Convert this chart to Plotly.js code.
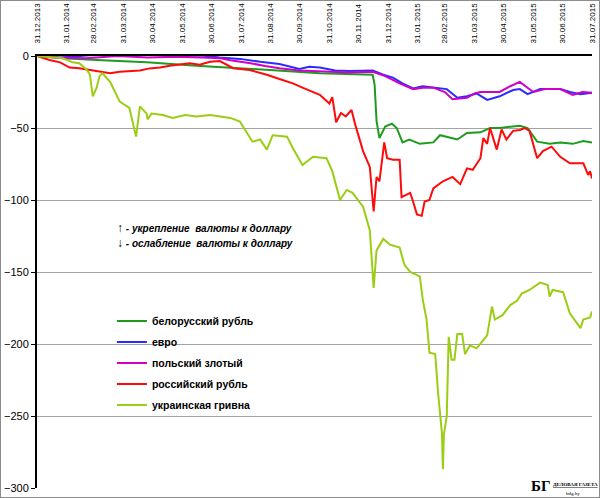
<!DOCTYPE html>
<html>
<head>
<meta charset="utf-8">
<script src="https://cdn.plot.ly/plotly-3.0.1.min.js"></script>
<style>
  html, body { margin: 0; padding: 0; background: #fff; }
  #chart { width: 598px; height: 496px; border: 1px solid #8c8c8c; }
</style>
</head>
<body>
<div id="chart"></div>
<script>
// Month-end ticks along the top axis
const tickDates = ["2013-12-31", "2014-01-31", "2014-02-28", "2014-03-31", "2014-04-30", "2014-05-31",
  "2014-06-30", "2014-07-31", "2014-08-31", "2014-09-30", "2014-10-31", "2014-11-30", "2014-12-31",
  "2015-01-31", "2015-02-28", "2015-03-31", "2015-04-30", "2015-05-31", "2015-06-30", "2015-07-31"];
const tickLabels = ["31.12.2013", "31.01.2014", "28.02.2014", "31.03.2014", "30.04.2014", "31.05.2014",
  "30.06.2014", "31.07.2014", "31.08.2014", "30.09.2014", "31.10.2014", "30.11.2014", "31.12.2014",
  "31.01.2015", "28.02.2015", "31.03.2015", "30.04.2015", "31.05.2015", "30.06.2015", "31.07.2015"];

// белорусский рубль
const byrDates = ["2013-12-31", "2014-01-27", "2014-03-03", "2014-04-24", "2014-06-15", "2014-07-20",
  "2014-08-30", "2014-10-21", "2014-12-15", "2014-12-17", "2014-12-19", "2014-12-22", "2014-12-28",
  "2015-01-04", "2015-01-09", "2015-01-15", "2015-01-22", "2015-02-02", "2015-02-16", "2015-02-23",
  "2015-03-13", "2015-03-23", "2015-04-06", "2015-04-16", "2015-04-26", "2015-05-17", "2015-05-25",
  "2015-06-04", "2015-06-17", "2015-06-28", "2015-07-11", "2015-07-22", "2015-07-31"];
const byrValues = [0, -1.6, -2.8, -4.3, -6.7, -8, -9.7, -12, -13, -20, -45, -57, -49,
  -47, -50, -60, -58, -61, -60, -55, -58, -53.5, -53, -50, -50, -48.4, -50,
  -59.5, -61, -60, -61, -59, -60];

// евро
const eurDates = ["2013-12-31", "2014-01-24", "2014-02-24", "2014-03-27", "2014-04-12", "2014-04-27",
  "2014-05-29", "2014-06-18", "2014-07-09", "2014-07-30", "2014-08-20", "2014-09-09", "2014-09-30",
  "2014-10-10", "2014-10-21", "2014-11-06", "2014-11-21", "2014-12-15", "2014-12-26", "2015-01-05",
  "2015-01-15", "2015-01-26", "2015-02-05", "2015-02-16", "2015-03-02", "2015-03-13", "2015-03-23",
  "2015-04-02", "2015-04-13", "2015-04-26", "2015-05-10", "2015-05-17", "2015-05-25", "2015-06-07",
  "2015-06-28", "2015-07-08", "2015-07-19", "2015-07-31"];
const eurValues = [0, -1, 0.5, 1, 0.5, 1, 0, 0.5, -1, -2, -4, -5.5, -9,
  -7.5, -8, -10, -10.4, -10, -13, -15, -19, -22.5, -21, -22, -23, -29, -28,
  -26, -30.5, -28, -23.6, -23, -26.5, -23, -23, -25, -26.5, -25.5];

// польский злотый
const plnDates = ["2013-12-31", "2014-01-20", "2014-02-20", "2014-03-25", "2014-04-25", "2014-05-25",
  "2014-06-20", "2014-07-10", "2014-07-20", "2014-08-10", "2014-08-25", "2014-09-09", "2014-09-30",
  "2014-10-21", "2014-11-04", "2014-11-21", "2014-12-15", "2014-12-28", "2015-01-12", "2015-01-26",
  "2015-02-05", "2015-02-16", "2015-02-28", "2015-03-08", "2015-03-23", "2015-03-31", "2015-04-06",
  "2015-04-26", "2015-05-07", "2015-05-17", "2015-05-25", "2015-05-31", "2015-06-12", "2015-06-28",
  "2015-07-11", "2015-07-21", "2015-07-31"];
const plnValues = [0, -1, -1.5, 0, -1, -0.5, -1, -1.5, -3, -5, -7, -8.5, -10,
  -10.5, -11, -11.5, -11, -14, -19, -23, -22, -22, -25, -30, -29, -26, -25,
  -25, -21, -18, -22, -25, -23, -23, -27, -25, -25.5];

// российский рубль
const rubDates = ["2013-12-31", "2014-01-13", "2014-01-24", "2014-02-03", "2014-02-13", "2014-02-24",
  "2014-03-06", "2014-03-17", "2014-03-27", "2014-04-06", "2014-04-17", "2014-04-27", "2014-05-08",
  "2014-05-18", "2014-05-29", "2014-06-08", "2014-06-18", "2014-06-29", "2014-07-09", "2014-07-23",
  "2014-08-09", "2014-08-27", "2014-09-09", "2014-09-23", "2014-10-03", "2014-10-21", "2014-10-31",
  "2014-11-03", "2014-11-07", "2014-11-12", "2014-11-17", "2014-11-23", "2014-11-27", "2014-12-05",
  "2014-12-12", "2014-12-16", "2014-12-19", "2014-12-22", "2014-12-27", "2014-12-30", "2015-01-05",
  "2015-01-12", "2015-01-14", "2015-01-23", "2015-01-26", "2015-01-30", "2015-02-04", "2015-02-07",
  "2015-02-12", "2015-02-16", "2015-02-26", "2015-03-08", "2015-03-16", "2015-03-23", "2015-03-29",
  "2015-04-06", "2015-04-09", "2015-04-13", "2015-04-16", "2015-04-23", "2015-04-28", "2015-05-03",
  "2015-05-10", "2015-05-17", "2015-05-22", "2015-05-27", "2015-06-04", "2015-06-10", "2015-06-19",
  "2015-06-28", "2015-07-08", "2015-07-22", "2015-07-27", "2015-07-29", "2015-07-31"];
const rubValues = [0, -2.8, -4.4, -8, -8.5, -9.7, -11, -12, -11, -10.6, -10, -8.6, -8,
  -6.7, -6, -5, -6, -4, -3.5, -8.5, -9.7, -13, -16, -19, -22, -27, -33,
  -28.5, -46, -39.6, -42, -37.5, -48, -66, -77, -108, -84, -87, -60, -71, -72,
  -72, -98, -95, -101, -110, -111, -101, -100, -92, -87, -84, -89, -78, -79,
  -71, -57, -61, -50, -65, -51, -58, -52, -51.4, -50, -52, -71, -66, -63,
  -70, -74.5, -74.5, -82.6, -80, -85];

// украинская гривна
const uahDates = ["2013-12-31", "2014-01-27", "2014-02-06", "2014-02-13", "2014-02-21", "2014-02-24",
  "2014-02-27", "2014-03-03", "2014-03-06", "2014-03-09", "2014-03-17", "2014-03-27", "2014-04-06",
  "2014-04-09", "2014-04-13", "2014-04-17", "2014-04-24", "2014-04-25", "2014-04-29", "2014-05-11",
  "2014-05-21", "2014-06-03", "2014-06-15", "2014-06-29", "2014-07-11", "2014-07-20", "2014-07-30",
  "2014-08-12", "2014-08-20", "2014-08-27", "2014-09-02", "2014-09-17", "2014-09-23", "2014-10-03",
  "2014-10-14", "2014-10-28", "2014-11-03", "2014-11-11", "2014-11-18", "2014-11-24", "2014-12-05",
  "2014-12-12", "2014-12-16", "2014-12-19", "2014-12-26", "2015-01-02", "2015-01-12", "2015-01-17",
  "2015-01-23", "2015-01-30", "2015-02-02", "2015-02-05", "2015-02-09", "2015-02-12", "2015-02-18",
  "2015-02-21", "2015-02-25", "2015-02-26", "2015-02-27", "2015-03-02", "2015-03-04", "2015-03-07",
  "2015-03-10", "2015-03-13", "2015-03-18", "2015-03-21", "2015-03-26", "2015-04-02", "2015-04-13",
  "2015-04-18", "2015-04-21", "2015-04-29", "2015-05-07", "2015-05-14", "2015-05-19", "2015-05-27",
  "2015-06-07", "2015-06-15", "2015-06-17", "2015-06-20", "2015-07-01", "2015-07-08", "2015-07-19",
  "2015-07-22", "2015-07-29", "2015-07-31"];
const uahValues = [0, -1.6, -4.4, -5, -9.7, -13, -28, -22, -14, -12, -18, -31.7, -36,
  -45.6, -56, -35, -40, -44, -40, -41, -43, -41, -42, -41, -42, -43, -45.6,
  -59.5, -58, -65, -55, -56, -64, -75.7, -70, -71, -80, -100, -93, -95, -104.6,
  -121, -161, -135, -127, -131, -133, -145, -150, -152, -153, -169, -183, -206, -207,
  -234, -262, -287, -263, -250, -195, -211, -211, -193, -193, -207, -201, -203, -194,
  -174, -183, -180, -173, -170, -165, -162.5, -157.4, -159, -167, -162.5, -164, -178.7, -189,
  -183, -181.5, -177.5];

const series = [
  { name: "белорусский рубль", x: byrDates, y: byrValues, color: "#1e9b1e" },
  { name: "евро", x: eurDates, y: eurValues, color: "#2b2bff" },
  { name: "польский злотый", x: plnDates, y: plnValues, color: "#d000c8" },
  { name: "российский рубль", x: rubDates, y: rubValues, color: "#ff0a0a" },
  { name: "украинская гривна", x: uahDates, y: uahValues, color: "#9acd14" },
];

const traces = series.map((s, i) => ({
  type: "scatter",
  mode: "lines",
  name: s.name,
  x: s.x,
  y: s.y,
  legendgroup: "g" + i,
  line: { color: s.color, width: 2 },
  hoverinfo: "skip",
}));

const layout = {
  width: 598,
  height: 496,
  margin: { l: 36, r: 7, t: 55, b: 9 },
  paper_bgcolor: "#fff",
  plot_bgcolor: "#fff",
  font: { family: "Liberation Sans, Arial, sans-serif", color: "#000" },
  showlegend: true,
  legend: {
    x: 0.135,
    y: 0.42,
    xanchor: "left",
    yanchor: "top",
    bgcolor: "rgba(0,0,0,0)",
    borderwidth: 0,
    tracegroupgap: 2,
    font: { family: "Liberation Sans, Arial, sans-serif", size: 10.5, color: "#000", weight: "bold" },
  },
  xaxis: {
    type: "date",
    side: "top",
    range: ["2013-12-31", "2015-07-31"],
    tickvals: tickDates,
    ticktext: tickLabels,
    tickangle: -90,
    tickfont: { size: 8, color: "#000" },
    ticklabelstandoff: 9,
    ticks: "",
    showgrid: false,
    zeroline: false,
    showline: true,
    linecolor: "#000",
    linewidth: 2,
    fixedrange: true,
  },
  yaxis: {
    range: [-300, 0],
    dtick: 50,
    tick0: 0,
    ticks: "outside",
    ticklen: 4,
    tickcolor: "#000",
    tickfont: { size: 11, color: "#000" },
    showgrid: true,
    gridcolor: "#a3a3a3",
    gridwidth: 1,
    zeroline: false,
    showline: true,
    linecolor: "#000",
    linewidth: 2,
    fixedrange: true,
  },
  annotations: [
    {
      xref: "paper", yref: "paper", x: 0.14, y: 0.602, xanchor: "left", yanchor: "middle",
      text: "<b><i><span style='font-size:12px'>↑</span> - укрепление  валюты к доллару</i></b>", showarrow: false,
      font: { size: 10, color: "#000" },
    },
    {
      xref: "paper", yref: "paper", x: 0.14, y: 0.567, xanchor: "left", yanchor: "middle",
      text: "<b><i><span style='font-size:12px'>↓</span> - ослабление  валюты к доллару</i></b>", showarrow: false,
      font: { size: 10, color: "#000" },
    },
    // masthead in the corner
    {
      xref: "paper", yref: "paper", x: 0.908, y: 0.004, xanchor: "center", yanchor: "middle",
      text: "<b>БГ</b>", showarrow: false, bgcolor: "#fff", borderpad: 1,
      font: { family: "Liberation Serif, serif", size: 15, color: "#000" },
    },
    {
      xref: "paper", yref: "paper", x: 0.97, y: 0.009, xanchor: "center", yanchor: "middle",
      text: "<b><u>ДЕЛОВАЯ ГАЗЕТА</u></b>", showarrow: false, bgcolor: "#fff", borderpad: 0,
      font: { family: "Liberation Serif, serif", size: 5, color: "#000" },
    },
    {
      xref: "paper", yref: "paper", x: 0.966, y: -0.012, xanchor: "center", yanchor: "middle",
      text: "bdg.by", showarrow: false,
      font: { family: "Liberation Serif, serif", size: 5, color: "#000" },
    },
  ],
};

Plotly.newPlot("chart", traces, layout, { staticPlot: true, displayModeBar: false });
</script>
</body>
</html>
